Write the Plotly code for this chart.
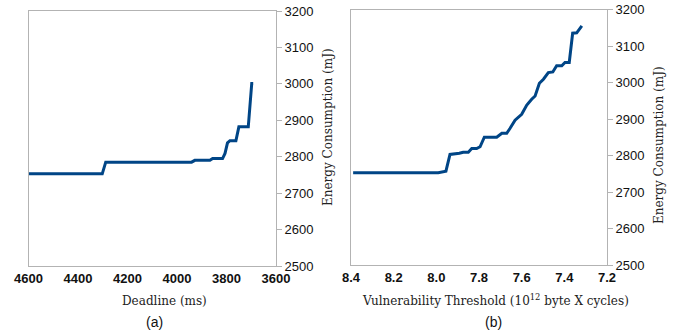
import plotly.graph_objects as go

# Panel (a): Deadline (ms) vs Energy Consumption (mJ)
deadline_ms = [4600, 4302, 4288, 3941, 3928, 3867, 3856, 3816, 3806, 3796, 3786,
               3762, 3750, 3712, 3698, 3692]
energy_a = [2753, 2753, 2785, 2785, 2790, 2790, 2795, 2795, 2809, 2838, 2844,
            2844, 2882, 2882, 3001, 3001]

# Panel (b): Vulnerability threshold vs Energy Consumption (mJ)
vuln_threshold = [8.39, 7.991, 7.955, 7.936, 7.892, 7.874, 7.850, 7.834, 7.811, 7.795,
                  7.775, 7.717, 7.693, 7.670, 7.655, 7.631, 7.600, 7.576, 7.553, 7.537,
                  7.517, 7.498, 7.475, 7.454, 7.436, 7.412, 7.397, 7.377, 7.361, 7.342,
                  7.318]
energy_b = [2753, 2753, 2757, 2803, 2806, 2809, 2809, 2819, 2819, 2824,
            2850, 2850, 2861, 2861, 2874, 2897, 2913, 2938, 2954, 2963,
            2998, 3009, 3027, 3029, 3046, 3046, 3055, 3055, 3135, 3136,
            3155]

x_ticks_a = [4600, 4400, 4200, 4000, 3800, 3600]
x_ticks_b = [8.4, 8.2, 8.0, 7.8, 7.6, 7.4, 7.2]
y_ticks = [2500, 2600, 2700, 2800, 2900, 3000, 3100, 3200]

W, H = 688, 333
LINE = '#004586'
FRAME = '#b3b3b3'
SANS = 'Liberation Sans'
SERIF = 'DejaVu Serif'

def px(x):
    return x / W

def py(y):
    return 1 - y / H

fig = go.Figure()
fig.add_trace(go.Scatter(x=deadline_ms, y=energy_a, xaxis='x', yaxis='y', mode='lines',
                         line=dict(color=LINE, width=3), showlegend=False))
fig.add_trace(go.Scatter(x=vuln_threshold, y=energy_b, xaxis='x2', yaxis='y2', mode='lines',
                         line=dict(color=LINE, width=3), showlegend=False))

common = dict(showgrid=False, zeroline=False, showline=True, linecolor=FRAME, linewidth=1,
              mirror=True, automargin=False)
xfont = dict(family=SANS, size=13, color='#111', weight='bold')
yfont = dict(family=SANS, size=13, color='#111')

fig.update_layout(
    width=W, height=H,
    margin=dict(l=0, r=0, t=0, b=0),
    paper_bgcolor='white', plot_bgcolor='white',
    xaxis=dict(domain=[px(28.5), px(276)], anchor='y', range=[4600, 3600],
               tickvals=x_ticks_a, ticks='', tickfont=xfont, **common),
    yaxis=dict(domain=[py(266), py(11)], anchor='x', side='right', range=[2500, 3200],
               tickvals=y_ticks, ticks='outside', ticklen=5, tickcolor=FRAME,
               tickfont=yfont, **common),
    xaxis2=dict(domain=[px(351), px(607)], anchor='y2', range=[8.4, 7.2],
                tickvals=x_ticks_b, tickformat='.1f', ticks='', tickfont=xfont, **common),
    yaxis2=dict(domain=[py(265), py(9.5)], anchor='x2', side='right', range=[2500, 3200],
                tickvals=y_ticks, ticks='outside', ticklen=5, tickcolor=FRAME,
                tickfont=yfont, **common),
)

tfont = dict(family=SERIF, size=12, color='#222')
ann = [
    dict(text='Deadline (ms)', x=px(164), y=py(301), font=tfont),
    dict(text='Vulnerability Threshold (10<sup>12</sup> byte X cycles)', x=px(496), y=py(300), font=tfont),
    dict(text='Energy Consumption (mJ)', x=px(328), y=py(127), font=tfont, textangle=-90),
    dict(text='Energy Consumption (mJ)', x=px(659), y=py(145), font=tfont, textangle=-90),
    dict(text='(a)', x=px(154), y=py(322), font=dict(family=SANS, size=14, color='#111')),
    dict(text='(b)', x=px(493), y=py(322), font=dict(family=SANS, size=14, color='#111')),
]
for a in ann:
    fig.add_annotation(xref='paper', yref='paper', showarrow=False,
                       xanchor='center', yanchor='middle', **a)

fig.write_html('out.html', config={'displayModeBar': False},
               post_script="document.body.style.margin='0';document.body.style.overflow='hidden';")
